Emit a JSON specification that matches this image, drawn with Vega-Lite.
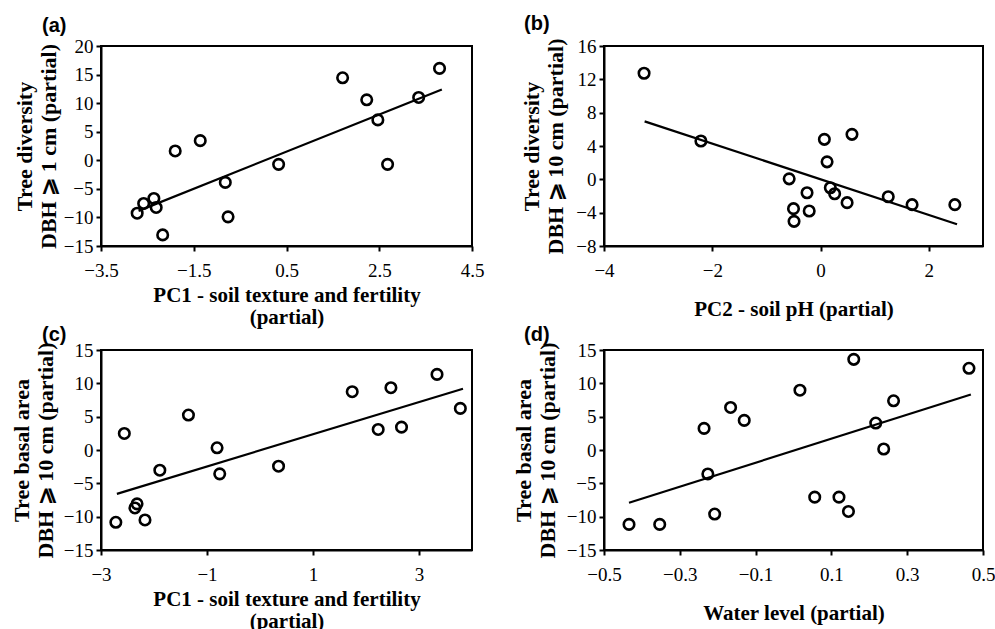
{
  "$schema": "https://vega.github.io/schema/vega-lite/v6.json",
  "background": "white",
  "padding": {"left": 9, "top": 13, "right": 0, "bottom": 0},
  "config": {
    "view": {"stroke": "black", "strokeWidth": 2},
    "axis": {"grid": false, "domainColor": "black", "domainWidth": 2, "tickColor": "black", "tickWidth": 2, "tickSize": 5,
      "labelFont": "Liberation Serif", "labelFontSize": 19, "labelColor": "black", "labelPadding": 10, "labelFlush": false, "labelOverlap": false,
      "titleFont": "Liberation Serif", "titleFontSize": 21, "titleFontWeight": "bold", "titleColor": "black", "titleLineHeight": 22.5},
    "axisY": {"labelPadding": 3, "titleFontSize": 22},
    "title": {"font": "Liberation Sans", "fontSize": 20, "fontWeight": "bold", "anchor": "start", "frame": "group", "color": "black"}
  },
  "bounds": "flush",
  "columns": 2,
  "spacing": {"row": 104, "column": 132},
  "datasets": {
    "a_pts": [
      {"x": -2.72, "y": -9.26}, {"x": -2.58, "y": -7.56}, {"x": -2.36, "y": -6.68}, {"x": -2.31, "y": -8.26},
      {"x": -2.17, "y": -13.06}, {"x": -1.90, "y": 1.63}, {"x": -1.36, "y": 3.44}, {"x": -0.82, "y": -3.87},
      {"x": -0.76, "y": -9.9}, {"x": 0.33, "y": -0.71}, {"x": 1.71, "y": 14.44}, {"x": 2.23, "y": 10.58},
      {"x": 2.47, "y": 7.07}, {"x": 2.68, "y": -0.71}, {"x": 3.35, "y": 10.99}, {"x": 3.80, "y": 16.08}
    ],
    "a_line": [{"x": -2.69, "y": -8.85}, {"x": 3.85, "y": 12.39}],
    "b_pts": [
      {"x": -3.26, "y": 12.73}, {"x": -2.21, "y": 4.6}, {"x": -0.58, "y": 0.06}, {"x": -0.50, "y": -3.52},
      {"x": -0.49, "y": -5.04}, {"x": -0.25, "y": -1.61}, {"x": -0.21, "y": -3.8}, {"x": 0.07, "y": 4.8},
      {"x": 0.12, "y": 2.1}, {"x": 0.18, "y": -1.01}, {"x": 0.26, "y": -1.73}, {"x": 0.49, "y": -2.8},
      {"x": 0.58, "y": 5.4}, {"x": 1.25, "y": -2.09}, {"x": 1.69, "y": -3.04}, {"x": 2.48, "y": -3.04}
    ],
    "b_line": [{"x": -3.25, "y": 6.96}, {"x": 2.52, "y": -5.39}],
    "c_pts": [
      {"x": -2.72, "y": -10.84}, {"x": -2.56, "y": 2.48}, {"x": -2.36, "y": -8.69}, {"x": -2.32, "y": -8.08},
      {"x": -2.17, "y": -10.49}, {"x": -1.89, "y": -3.03}, {"x": -1.35, "y": 5.24}, {"x": -0.81, "y": 0.33},
      {"x": -0.76, "y": -3.58}, {"x": 0.35, "y": -2.43}, {"x": 1.74, "y": 8.74}, {"x": 2.23, "y": 3.08},
      {"x": 2.47, "y": 9.34}, {"x": 2.67, "y": 3.43}, {"x": 3.34, "y": 11.34}, {"x": 3.78, "y": 6.24}
    ],
    "c_line": [{"x": -2.70, "y": -6.58}, {"x": 3.83, "y": 9.19}],
    "d_pts": [
      {"x": -0.434, "y": -11.16}, {"x": -0.353, "y": -11.16}, {"x": -0.236, "y": 3.24}, {"x": -0.226, "y": -3.59},
      {"x": -0.208, "y": -9.61}, {"x": -0.166, "y": 6.38}, {"x": -0.130, "y": 4.44}, {"x": 0.017, "y": 8.97},
      {"x": 0.056, "y": -7.07}, {"x": 0.120, "y": -7.07}, {"x": 0.145, "y": -9.22}, {"x": 0.159, "y": 13.6},
      {"x": 0.217, "y": 4.04}, {"x": 0.238, "y": 0.15}, {"x": 0.264, "y": 7.38}, {"x": 0.463, "y": 12.26}
    ],
    "d_line": [{"x": -0.434, "y": -7.92}, {"x": 0.468, "y": 8.32}]
  },
  "concat": [
    {
      "width": 371, "height": 200,
      "title": {"text": "(a)", "dx": -59, "offset": 1},
      "encoding": {
        "x": {"field": "x", "type": "quantitative", "scale": {"domain": [-3.5, 4.5], "nice": false, "zero": false},
          "axis": {"values": [-3.5, -1.5, 0.5, 2.5, 4.5], "format": ".1f", "title": ["PC1 - soil texture and fertility", "(partial)"], "titlePadding": 4, "titleLineHeight": 22.5}},
        "y": {"field": "y", "type": "quantitative", "scale": {"domain": [-15, 20], "nice": false, "zero": false},
          "axis": {"values": [-15, -10, -5, 0, 5, 10, 15, 20], "title": ["Tree diversity", "DBH ⩾ 1 cm (partial)"], "titlePadding": 3, "titleLineHeight": 24}}
      },
      "layer": [
        {"data": {"name": "a_line"}, "mark": {"type": "line", "color": "black", "strokeWidth": 2.2}},
        {"data": {"name": "a_pts"}, "mark": {"type": "point", "shape": "circle", "filled": false, "size": 110, "strokeWidth": 2.6, "color": "black", "opacity": 1}}
      ]
    },
    {
      "width": 379, "height": 200,
      "title": {"text": "(b)", "dx": -80, "offset": 3},
      "encoding": {
        "x": {"field": "x", "type": "quantitative", "scale": {"domain": [-4, 3], "nice": false, "zero": false},
          "axis": {"values": [-4, -2, 0, 2], "format": "d", "title": "PC2 - soil pH (partial)", "titlePadding": 18}},
        "y": {"field": "y", "type": "quantitative", "scale": {"domain": [-8, 16], "nice": false, "zero": false},
          "axis": {"values": [-8, -4, 0, 4, 8, 12, 16], "format": "d", "title": ["Tree diversity", "DBH ⩾ 10 cm (partial)"], "titlePadding": 8, "titleLineHeight": 24}}
      },
      "layer": [
        {"data": {"name": "b_line"}, "mark": {"type": "line", "color": "black", "strokeWidth": 2.2}},
        {"data": {"name": "b_pts"}, "mark": {"type": "point", "shape": "circle", "filled": false, "size": 110, "strokeWidth": 2.6, "color": "black", "opacity": 1}}
      ]
    },
    {
      "width": 371, "height": 200,
      "title": {"text": "(c)", "dx": -59, "offset": -4},
      "encoding": {
        "x": {"field": "x", "type": "quantitative", "scale": {"domain": [-3, 4], "nice": false, "zero": false},
          "axis": {"values": [-3, -1, 1, 3], "format": "d", "title": ["PC1 - soil texture and fertility", "(partial)"], "titlePadding": 4, "titleLineHeight": 22.5}},
        "y": {"field": "y", "type": "quantitative", "scale": {"domain": [-15, 15], "nice": false, "zero": false},
          "axis": {"values": [-15, -10, -5, 0, 5, 10, 15], "format": "d", "title": ["Tree basal area", "DBH ⩾ 10 cm (partial)"], "titlePadding": 6, "titleLineHeight": 24}}
      },
      "layer": [
        {"data": {"name": "c_line"}, "mark": {"type": "line", "color": "black", "strokeWidth": 2.2}},
        {"data": {"name": "c_pts"}, "mark": {"type": "point", "shape": "circle", "filled": false, "size": 110, "strokeWidth": 2.6, "color": "black", "opacity": 1}}
      ]
    },
    {
      "width": 379, "height": 200,
      "title": {"text": "(d)", "dx": -80, "offset": -4},
      "encoding": {
        "x": {"field": "x", "type": "quantitative", "scale": {"domain": [-0.5, 0.5], "nice": false, "zero": false},
          "axis": {"values": [-0.5, -0.3, -0.1, 0.1, 0.3, 0.5], "format": ".1f", "title": "Water level (partial)", "titlePadding": 18}},
        "y": {"field": "y", "type": "quantitative", "scale": {"domain": [-15, 15], "nice": false, "zero": false},
          "axis": {"values": [-15, -10, -5, 0, 5, 10, 15], "format": "d", "title": ["Tree basal area", "DBH ⩾ 10 cm (partial)"], "titlePadding": 7, "titleLineHeight": 24}}
      },
      "layer": [
        {"data": {"name": "d_line"}, "mark": {"type": "line", "color": "black", "strokeWidth": 2.2}},
        {"data": {"name": "d_pts"}, "mark": {"type": "point", "shape": "circle", "filled": false, "size": 110, "strokeWidth": 2.6, "color": "black", "opacity": 1}}
      ]
    }
  ]
}
